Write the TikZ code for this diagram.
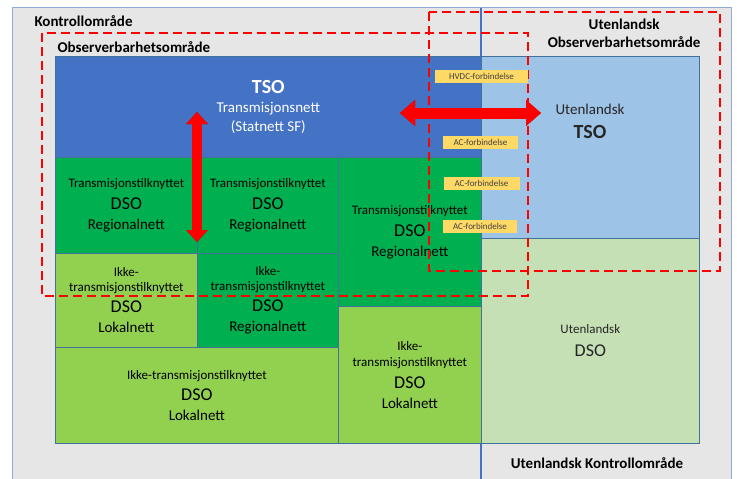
\documentclass[tikz,border=0pt]{standalone}
\usepackage{fontspec}
\setmainfont{Carlito}
\usetikzlibrary{arrows.meta}
\definecolor{bggray}{HTML}{E7E6E6}
\definecolor{edgeblue}{HTML}{8FAADC}
\definecolor{divblue}{HTML}{4472C4}
\definecolor{tsoblue}{HTML}{4472C4}
\definecolor{lightblue}{HTML}{9DC3E6}
\definecolor{dgreen}{HTML}{00B050}
\definecolor{lgreen}{HTML}{92D050}
\definecolor{pgreen}{HTML}{C5E0B4}
\definecolor{boxline}{HTML}{41719C}
\definecolor{lblyellow}{HTML}{FFD966}
\definecolor{lbltext}{HTML}{404040}
\definecolor{txtgray}{HTML}{262626}
\definecolor{arrowred}{HTML}{FF0000}
\definecolor{arrowshade}{HTML}{B00000}
\newcommand\szDSO{\fontsize{18}{20}\selectfont}
\newcommand\szNet{\fontsize{15}{20}\selectfont}
\newcommand\szBig{\fontsize{20}{20}\selectfont\bfseries}
\tikzset{
  area/.style={fill=bggray, draw=edgeblue, line width=1pt},
  box/.style={draw=boxline, line width=0.7pt, inner sep=0pt, anchor=north west,
    align=center, font=\fontsize{13}{20}\selectfont},
  obsarea/.style={draw=arrowred, line width=2.5pt, dash pattern=on 9pt off 5pt},
  conn/.style={fill=lblyellow, inner sep=0pt, font=\fontsize{9}{10}\selectfont, text=lbltext},
  areatitle/.style={font=\fontsize{15}{18.2}\selectfont\bfseries, text=black},
  blockarrow/.style={draw=arrowred, line cap=butt},
  arrowshadow/.style={draw=arrowshade, line cap=butt, shift={(0.8,0.8)}},
}
\begin{document}
\begin{tikzpicture}[x=1pt,y=-1pt]
\useasboundingbox (0,0) rectangle (737,479);
\fill[white] (0,0) rectangle (737,479);
% control areas
\draw[area] (12,7.5) rectangle (481,490);
\draw[area] (481,7.5) rectangle (731,490);
\draw[divblue, line width=1.6pt] (481,7.5) -- (481,490);
\node[areatitle, anchor=base west] (kontroll) at (31,26) {Kontrollområde};
\node[areatitle, anchor=base west] (obs) at (54,52) {Observerbarhetsområde};
\node[areatitle, anchor=east, align=center] (uobs) at (704,33.1) {Utenlandsk\\Observerbarhetsområde};
\node[areatitle, anchor=base] (ukontroll) at (597,468) {Utenlandsk Kontrollområde};
% boxes
\node[box, fill=tsoblue, text=white, minimum width=426pt, minimum height=101pt,
  font=\fontsize{15}{19}\selectfont] (tso) at (55,56)
  {{\szBig TSO}\\Transmisjonsnett\\(Statnett SF)};
\node[box, fill=dgreen, minimum width=142pt, minimum height=96pt] (t1) at (55,157)
  {Transmisjonstilknyttet\\[2pt]{\szDSO DSO}\\{\szNet Regionalnett}};
\node[box, fill=dgreen, minimum width=141pt, minimum height=96pt] (t2) at (197,157)
  {Transmisjonstilknyttet\\[2pt]{\szDSO DSO}\\{\szNet Regionalnett}};
\node[box, fill=dgreen, minimum width=143pt, minimum height=149pt] (t3) at (338,157)
  {Transmisjonstilknyttet\\[2pt]{\szDSO DSO}\\{\szNet Regionalnett}};
\node[box, fill=lgreen, minimum width=142pt, minimum height=94pt] (i1) at (55,253)
  {Ikke-\\[-5.5pt]transmisjonstilknyttet\\[1.5pt]{\szDSO DSO}\\{\szNet Lokalnett}};
\node[box, fill=dgreen, minimum width=141pt, minimum height=94pt] (i2) at (197,253)
  {Ikke-\\[-5.5pt]transmisjonstilknyttet\\[1.5pt]{\szDSO DSO}\\{\szNet Regionalnett}};
\node[box, fill=lgreen, minimum width=283pt, minimum height=96pt] (i3) at (55,347)
  {Ikke-transmisjonstilknyttet\\[1.5pt]{\szDSO DSO}\\{\szNet Lokalnett}};
\node[box, fill=lgreen, minimum width=143pt, minimum height=137pt] (i4) at (338,306)
  {Ikke-\\[-3.5pt]transmisjonstilknyttet\\[2pt]{\szDSO DSO}\\{\szNet Lokalnett}};
\node[box, fill=lightblue, minimum width=218pt, minimum height=182pt] (utso) at (481,56) {};
\node[align=center, text=txtgray, font=\fontsize{15}{23.5}\selectfont] (utsotext) at (590,121.4)
  {Utenlandsk\\{\szBig TSO}};
\node[box, fill=pgreen, text=txtgray, minimum width=218pt, minimum height=205pt,
  font=\fontsize{13}{22.7}\selectfont] (udso) at (481,238)
  {Utenlandsk\\{\szDSO DSO}};
% observability areas
\draw[obsarea] (42,33) rectangle (528,296);
\draw[obsarea] (429,12) rectangle (720,271);
% connection labels
\node[conn, minimum width=93pt, minimum height=13pt] (hvdc) at (481.5,76.5) {HVDC-forbindelse};
\node[conn, minimum width=75pt, minimum height=12.5pt] (ac1) at (480.5,142.5) {AC-forbindelse};
\node[conn, minimum width=76pt, minimum height=13pt] (ac2) at (481.5,183) {AC-forbindelse};
\node[conn, minimum width=74pt, minimum height=13pt] (ac3) at (480,226) {AC-forbindelse};
% arrows
\coordinate (hl) at (400,113);
\coordinate (hr) at (541,113);
\coordinate (vt) at (197,112);
\coordinate (vb) at (197,242);
\draw[arrowshadow, line width=11pt, arrows={Triangle[length=15pt,width=25pt]-Triangle[length=15pt,width=25pt]}] (hl) -- (hr);
\draw[blockarrow, line width=11pt, arrows={Triangle[length=15pt,width=25pt]-Triangle[length=15pt,width=25pt]}] (hl) -- (hr);
\draw[arrowshadow, line width=10pt, arrows={Triangle[length=12pt,width=21pt]-Triangle[length=12pt,width=21pt]}] (vt) -- (vb);
\draw[blockarrow, line width=10pt, arrows={Triangle[length=12pt,width=21pt]-Triangle[length=12pt,width=21pt]}] (vt) -- (vb);
\end{tikzpicture}
\end{document}
